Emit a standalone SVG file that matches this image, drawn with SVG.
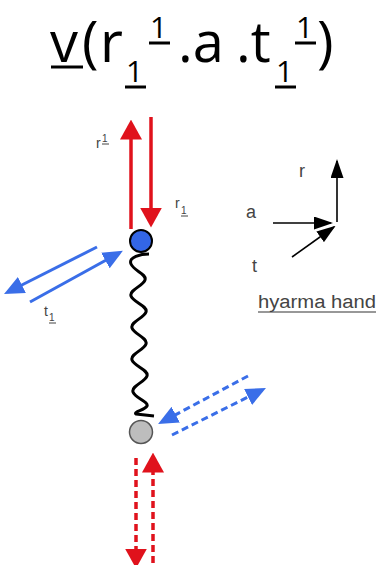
<svg xmlns="http://www.w3.org/2000/svg" width="385" height="565" viewBox="0 0 385 565">
<defs>
<style>
.title{font-family:"Open Sans","Liberation Sans",sans-serif;fill:#000}
.big{font-size:56px}
.small{font-size:30px}
.lbl{font-family:"Liberation Sans",Arial,sans-serif;fill:#444}
.ul{stroke:#000;stroke-width:3}
.ulg{stroke:#444;stroke-width:1}
.red{stroke:#e0121c;stroke-width:3.5;fill:none}
.blue{stroke:#3a6ee8;stroke-width:3;fill:none}
.dash{stroke-dasharray:7 4}
.blk{stroke:#000;stroke-width:1.6;fill:none}
</style>
<marker id="hr" markerUnits="userSpaceOnUse" markerWidth="20" markerHeight="22" viewBox="0 0 18 20" refX="14" refY="10" orient="auto"><path d="M0,0 L18,10 L0,20 z" fill="#e0121c"/></marker>
<marker id="hb" markerUnits="userSpaceOnUse" markerWidth="20" markerHeight="18" viewBox="0 0 18 16" refX="14" refY="8" orient="auto"><path d="M0,0 L18,8 L0,16 z" fill="#3a6ee8"/></marker>
<marker id="hk" markerUnits="userSpaceOnUse" markerWidth="19" markerHeight="13" viewBox="0 0 19 13" refX="17" refY="6.5" orient="auto"><path d="M0,0 L19,6.5 L0,13 z" fill="#000"/></marker>
</defs>
<rect width="385" height="565" fill="#fff"/>

<g id="title">
<text class="title big" x="50" y="62">v</text>
<line class="ul" x1="51" y1="67" x2="83" y2="67"/>
<text class="title big" x="82" y="62">(</text>
<text class="title big" x="100" y="62">r</text>
<text class="title small" x="126" y="82">1</text>
<line class="ul" x1="125" y1="87" x2="146" y2="87"/>
<text class="title small" x="150" y="38">1</text>
<line class="ul" x1="149" y1="43" x2="170" y2="43"/>
<text class="title big" x="178" y="62">.a</text>
<text class="title big" x="236" y="62">.t</text>
<text class="title small" x="276" y="82">1</text>
<line class="ul" x1="275" y1="87" x2="296" y2="87"/>
<text class="title small" x="296" y="38">1</text>
<line class="ul" x1="295" y1="43" x2="316" y2="43"/>
<text class="title big" x="317" y="62">)</text>
</g>

<g id="connectors">
<line class="red" x1="131" y1="229" x2="131" y2="124" marker-end="url(#hr)"/>
<line class="red" x1="151" y1="117" x2="151" y2="223" marker-end="url(#hr)"/>
<line class="blue" x1="97" y1="247" x2="8" y2="292" marker-end="url(#hb)"/>
<line class="blue" x1="30" y1="302" x2="119" y2="253" marker-end="url(#hb)"/>
<line class="blue dash" x1="248" y1="376" x2="162" y2="422" marker-end="url(#hb)"/>
<line class="blue dash" x1="172" y1="435" x2="262" y2="390" marker-end="url(#hb)"/>
<line class="red dash" x1="136" y1="458" x2="136" y2="564" marker-end="url(#hr)"/>
<line class="red dash" x1="153" y1="563" x2="153" y2="457" marker-end="url(#hr)"/>
<path id="spring" d="M149,254 C141,254 128,257 131,264 S147,274 145,280 S129,290 131,296 S148,306 146,312 S130,322 132,328 S148,338 146,344 S130,354 132,360 S149,370 147,376 S131,386 133,392 S149,402 147,406 S133,412 136,414 L154,416" fill="none" stroke="#000" stroke-width="3" stroke-linejoin="round"/>
</g>

<g id="node-top">
<circle cx="141" cy="241" r="11" fill="#3366e6" stroke="#000" stroke-width="2"/>
</g>
<g id="node-bottom">
<circle cx="141" cy="432" r="11.5" fill="#bdbdbd" stroke="#555" stroke-width="1.5"/>
</g>

<g id="label-r-sup">
<text class="lbl" x="96" y="148" font-size="14">r</text>
<text class="lbl" x="102" y="142" font-size="10">1</text>
<line class="ulg" x1="102" y1="144" x2="109" y2="144"/>
</g>
<g id="label-r-sub">
<text class="lbl" x="175" y="208" font-size="14">r</text>
<text class="lbl" x="181" y="214" font-size="10">1</text>
<line class="ulg" x1="181" y1="216" x2="188" y2="216"/>
</g>
<g id="label-t-sub">
<text class="lbl" x="44" y="316" font-size="14">t</text>
<text class="lbl" x="49" y="321" font-size="10">1</text>
<line class="ulg" x1="49" y1="323" x2="56" y2="323"/>
</g>

<g id="hand-axes">
<line class="blk" x1="337" y1="222" x2="337" y2="161" marker-end="url(#hk)"/>
<line class="blk" x1="273" y1="223" x2="331" y2="223" marker-end="url(#hk)"/>
<line class="blk" x1="292" y1="257" x2="334" y2="227" marker-end="url(#hk)"/>
<text class="lbl" x="299" y="177" font-size="18" fill="#222">r</text>
<text class="lbl" x="246" y="218" font-size="18" fill="#222">a</text>
<text class="lbl" x="252" y="272" font-size="18" fill="#222">t</text>
</g>
<g id="hyarma-hand">
<text class="lbl" x="258" y="308" font-size="18" textLength="118" lengthAdjust="spacingAndGlyphs">hyarma hand</text>
<line x1="258" y1="312" x2="376" y2="312" stroke="#333" stroke-width="1.2"/>
</g>
</svg>
